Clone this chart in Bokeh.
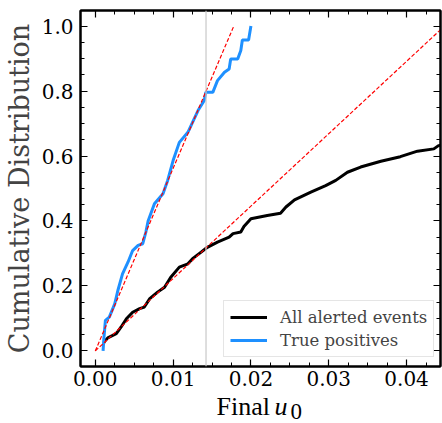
from bokeh.plotting import figure
from bokeh.layouts import column
from bokeh.models import (Range1d, FixedTicker, LinearAxis, Span, Legend, LegendItem,
                          Label, NumeralTickFormatter)
from bokeh.embed import file_html
from bokeh.resources import INLINE

# ---- data ----
all_u0 = [0.0011, 0.0012, 0.0016, 0.0027, 0.0033, 0.0040, 0.0048, 0.0057, 0.0063, 0.0070,
          0.0080, 0.0089, 0.0097, 0.0108, 0.0119, 0.0125, 0.0136, 0.0144, 0.0157, 0.0172,
          0.0177, 0.0187, 0.0191, 0.0200, 0.0221, 0.0238, 0.0245, 0.0256, 0.0277, 0.0296,
          0.0309, 0.0324, 0.0341, 0.0367, 0.0392, 0.0414, 0.0435, 0.0441, 0.0450]
all_cdf = [0.025, 0.030, 0.040, 0.053, 0.073, 0.099, 0.119, 0.130, 0.135, 0.161,
           0.181, 0.196, 0.227, 0.258, 0.268, 0.284, 0.304, 0.319, 0.335, 0.350,
           0.361, 0.366, 0.383, 0.407, 0.417, 0.424, 0.443, 0.465, 0.489, 0.509,
           0.525, 0.550, 0.566, 0.584, 0.598, 0.615, 0.622, 0.632, 0.635]

tp_u0 = [0.0010, 0.0011, 0.0013, 0.0018, 0.0025, 0.0029, 0.0035, 0.0042, 0.0048, 0.0055,
         0.0061, 0.0065, 0.0068, 0.0076, 0.0087, 0.0093, 0.0100, 0.0108, 0.0119, 0.0132,
         0.0140, 0.0142, 0.0151, 0.0157, 0.0166, 0.0172, 0.0174, 0.0183, 0.0187, 0.0189,
         0.0197, 0.0200]
tp_cdf = [0.0, 0.037, 0.094, 0.104, 0.145, 0.186, 0.237, 0.273, 0.309, 0.325,
          0.330, 0.366, 0.401, 0.453, 0.484, 0.525, 0.586, 0.642, 0.673, 0.740,
          0.771, 0.796, 0.796, 0.832, 0.858, 0.868, 0.899, 0.899, 0.925, 0.957,
          0.957, 1.0]

fit_tp_x = [0.0, 0.0178]
fit_tp_y = [0.0, 1.0]
fit_all_x = [0.0, 0.045]
fit_all_y = [0.0, 1.003]

cut_u0 = 0.01423

x_ticks = [0.00, 0.01, 0.02, 0.03, 0.04]
x_minor = [i * 0.0025 for i in range(-1, 19)]
y_ticks = [0.0, 0.2, 0.4, 0.6, 0.8, 1.0]
y_minor = [i * 0.05 for i in range(-1, 22)]

legend_labels = ["All alerted events", "True positives"]
x_label_parts = ["Final", "u", "0"]
y_label = "Cumulative Distribution"

TICK_FONT = "DejaVu Serif"
MATH_FONT = "Liberation Serif"

p = figure(width=442, height=393, output_backend="svg", toolbar_location=None,
           x_range=Range1d(-0.0019, 0.04436), y_range=Range1d(-0.048, 1.048),
           min_border_left=79, min_border_right=2, min_border_top=10, min_border_bottom=27,
           x_axis_location=None, y_axis_location=None)
p.grid.visible = False
p.outline_line_color = "black"
p.outline_line_width = 2
p.background_fill_color = "white"
p.border_fill_color = "white"


def style_axis(ax, labels=True):
    ax.axis_line_width = 2
    ax.major_tick_in = 7
    ax.major_tick_out = 0
    ax.minor_tick_in = 4
    ax.minor_tick_out = 0
    ax.major_tick_line_width = 1.2
    ax.minor_tick_line_width = 1
    ax.major_label_text_font = TICK_FONT
    ax.major_label_text_color = "black"
    ax.major_label_text_font_size = "20px"
    ax.major_label_standoff = 7 if labels else 0


bx = LinearAxis(ticker=FixedTicker(ticks=x_ticks, minor_ticks=x_minor),
                formatter=NumeralTickFormatter(format="0.00"))
style_axis(bx)
bx.major_label_standoff = 4
p.add_layout(bx, "below")
tx = LinearAxis(ticker=FixedTicker(ticks=x_ticks, minor_ticks=x_minor))
style_axis(tx, labels=False)
tx.major_label_overrides = {t: "" for t in x_ticks}
p.add_layout(tx, "above")

ly = LinearAxis(ticker=FixedTicker(ticks=y_ticks, minor_ticks=y_minor),
                formatter=NumeralTickFormatter(format="0.0"),
                axis_label=y_label)
style_axis(ly)
ly.axis_label_text_font = TICK_FONT
ly.axis_label_text_font_style = "normal"
ly.axis_label_text_font_size = "27px"
ly.axis_label_standoff = 4
p.add_layout(ly, "left")
ry = LinearAxis(ticker=FixedTicker(ticks=y_ticks, minor_ticks=y_minor))
style_axis(ry, labels=False)
ry.major_label_overrides = {t: "" for t in y_ticks}
p.add_layout(ry, "right")

p.add_layout(Span(location=cut_u0, dimension="height", line_color="#c8c8c8", line_width=1.2))

r_all = p.line(all_u0, all_cdf, line_color="black", line_width=3)
r_tp = p.line(tp_u0, tp_cdf, line_color="#1e90ff", line_width=3)
p.line(fit_tp_x, fit_tp_y, line_color="red", line_width=1.2, line_dash="4 2")
p.line(fit_all_x, fit_all_y, line_color="red", line_width=1.2, line_dash="4 2")

legend = Legend(items=[LegendItem(label=legend_labels[0], renderers=[r_all]),
                       LegendItem(label=legend_labels[1], renderers=[r_tp])],
                location=(143, 9))
legend.label_text_font = TICK_FONT
legend.label_text_font_size = "16.5px"
legend.glyph_width = 37
legend.glyph_height = 20
legend.label_height = 20
legend.label_standoff = 13
legend.padding = 6
legend.spacing = 3
legend.margin = 0
legend.border_line_color = "#cccccc"
legend.border_line_width = 1
legend.background_fill_alpha = 0.85
p.add_layout(legend, "center")

# x-axis label strip (mixed upright / italic / subscript text)
q = figure(width=442, height=30, output_backend="svg", toolbar_location=None,
           x_range=Range1d(0, 361), y_range=Range1d(0, 30),
           min_border_left=79, min_border_right=2, min_border_top=0, min_border_bottom=0,
           x_axis_location=None, y_axis_location=None)
q.grid.visible = False
q.outline_line_color = None
q.background_fill_color = "white"
q.border_fill_color = "white"
q.add_layout(Label(x=136, y=17, x_units="screen", y_units="screen", text=x_label_parts[0],
                   text_font=MATH_FONT, text_font_size="26px", text_baseline="alphabetic",
                   text_align="left", text_color="black"))
q.add_layout(Label(x=194, y=17, x_units="screen", y_units="screen", text=x_label_parts[1],
                   text_font=MATH_FONT, text_font_size="26px", text_font_style="italic",
                   text_baseline="alphabetic", text_align="left", text_color="black"))
q.add_layout(Label(x=210, y=12, x_units="screen", y_units="screen", text=x_label_parts[2],
                   text_font=MATH_FONT, text_font_size="23px",
                   text_baseline="alphabetic", text_align="left", text_color="black"))

layout = column(p, q, spacing=0)
open("out.html", "w").write(file_html(layout, INLINE))
